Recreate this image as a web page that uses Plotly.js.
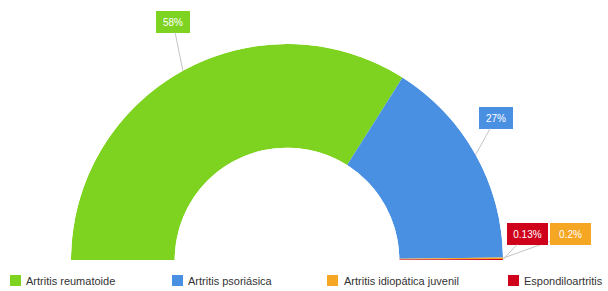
<!DOCTYPE html>
<html><head><meta charset="utf-8">
<script src="https://cdn.plot.ly/plotly-3.0.1.min.js"></script>
<style>html,body{margin:0;padding:0;background:#fff;overflow:hidden}#chart{width:608px;height:291px}</style>
</head><body><div id="chart"></div>
<script>
// ---- data ----
const categories = ['Artritis reumatoide', 'Artritis psoriásica', 'Artritis idiopática juvenil', 'Espondiloartritis'];
const values = [58, 27, 0.2, 0.13];
const valueLabels = ['58%', '27%', '0.2%', '0.13%'];
const colors = ['#7ed321', '#4a90e2', '#f5a623', '#d0021b'];

// ---- layout constants (pixels) ----
const W = 608, H = 291, CX = 287, CY = 260, R = 216;
const boxCenters = [[173, 22], [496, 118], [570, 234], [527, 234]];
const boxWidths = [34, 34, 41, 41];
const legendSwatchX = [10, 172, 327, 508];
const legendTextX = [24, 186, 342, 522];

const total = values.reduce((a, b) => a + b, 0);
let cum = 0;
const traces = [];
const mids = [];
values.forEach((v, i) => {
  const span = v / total * 180;
  const mid = cum + span / 2;
  cum += span;
  mids.push(mid);
  traces.push({
    type: 'barpolar', r: [1], theta: [mid], width: [span],
    marker: {color: colors[i], line: {width: 0}},
    name: categories[i], showlegend: false, hoverinfo: 'name'
  });
});

const px2x = p => p / W;
const py2y = p => 1 - p / H;

const annotations = [];
const shapes = [];
mids.forEach((m, i) => {
  const a = (180 - m) * Math.PI / 180;
  const tx = CX + R * Math.cos(a), ty = CY - R * Math.sin(a);
  annotations.push({
    xref: 'paper', yref: 'paper', x: px2x(tx), y: py2y(ty),
    text: valueLabels[i], showarrow: true, arrowhead: 0, arrowwidth: 1, arrowcolor: '#c4c4c4',
    axref: 'pixel', ayref: 'pixel', ax: boxCenters[i][0] - tx, ay: boxCenters[i][1] - ty,
    bgcolor: colors[i], bordercolor: colors[i], borderwidth: 1, borderpad: 4,
    width: boxWidths[i] - 10, height: 12,
    font: {family: 'Liberation Sans, Arial, sans-serif', size: 10, color: '#ffffff'}
  });
});
categories.forEach((c, i) => {
  shapes.push({type: 'rect', xref: 'paper', yref: 'paper',
    x0: px2x(legendSwatchX[i]), x1: px2x(legendSwatchX[i] + 11),
    y0: py2y(286), y1: py2y(275), fillcolor: colors[i], line: {width: 0}});
  annotations.push({xref: 'paper', yref: 'paper', x: px2x(legendTextX[i]), y: py2y(281),
    xanchor: 'left', yanchor: 'middle', showarrow: false, text: c,
    font: {family: 'Liberation Sans, Arial, sans-serif', size: 11, color: '#333333'}});
});

const layout = {
  width: W, height: H, margin: {l: 0, r: 0, t: 0, b: 0},
  paper_bgcolor: '#ffffff', showlegend: false,
  polar: {
    domain: {x: [px2x(CX - R), px2x(CX + R)], y: [py2y(CY), py2y(CY - R)]},
    sector: [0, 180], hole: 0.52, bgcolor: 'rgba(0,0,0,0)',
    radialaxis: {visible: false, range: [0, 1]},
    angularaxis: {visible: false, direction: 'clockwise', rotation: 180, showline: false, showgrid: false},
    bargap: 0
  },
  annotations: annotations, shapes: shapes
};
Plotly.newPlot('chart', traces, layout, {displayModeBar: false, staticPlot: true});
</script></body></html>
